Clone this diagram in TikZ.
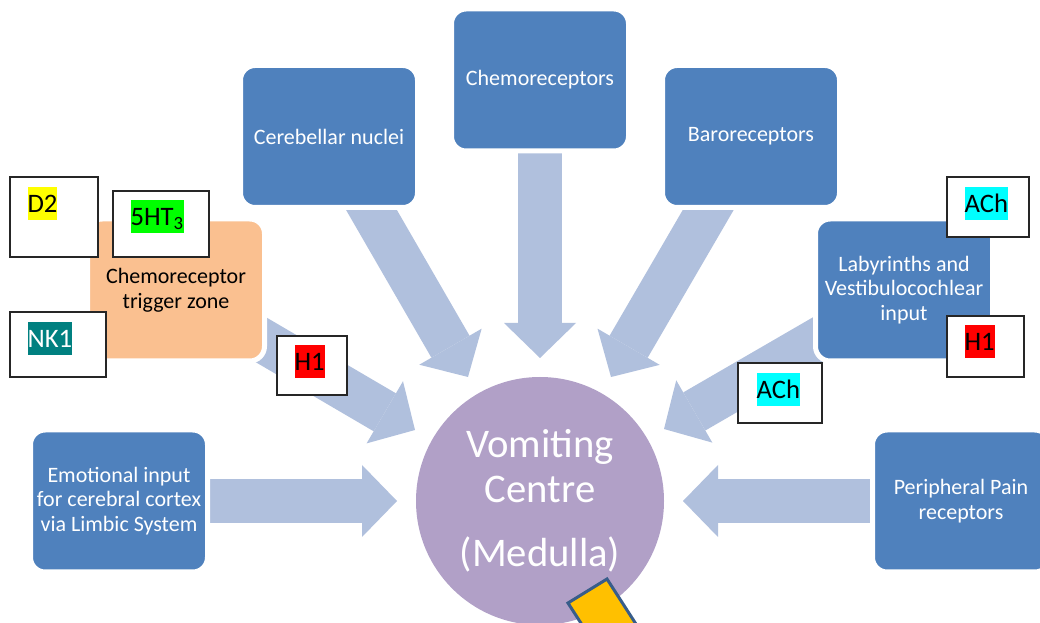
\documentclass[tikz,border=0pt]{standalone}
\usepackage{fontspec}
\setmainfont{Carlito}
\usetikzlibrary{arrows.meta,calc}
\definecolor{boxblue}{RGB}{79,129,189}
\definecolor{ctzor}{RGB}{250,192,144}
\definecolor{arrowc}{RGB}{176,192,221}
\definecolor{vcpurp}{RGB}{177,160,199}
\definecolor{pencilfill}{RGB}{255,192,0}
\definecolor{pencilline}{RGB}{56,93,138}
\definecolor{tealhl}{RGB}{0,128,128}
\definecolor{yellowhl}{RGB}{255,255,0}
\definecolor{greenhl}{RGB}{0,255,0}
\definecolor{cyanhl}{RGB}{0,255,255}
\definecolor{redhl}{RGB}{255,0,0}
\pgfdeclarelayer{paper}
\pgfdeclarelayer{arrowlayer}
\pgfsetlayers{paper,arrowlayer,main}
\begin{document}
\begin{tikzpicture}[x=0.75pt,y=-0.75pt,
  bigarrow/.style={draw=arrowc, line width=33pt,
    -{Triangle[length=26.25pt,width=54pt,line width=0pt]}},
  box/.style={rectangle, rounded corners=11pt, fill=boxblue, draw=white,
    line width=3.75pt, minimum width=132.75pt, minimum height=106.5pt,
    text=white, align=center, inner sep=0pt,
    font=\fontsize{16.5}{18.4}\selectfont},
  lbl/.style={rectangle, draw=black!85, line width=1.1pt, fill=white, inner sep=0pt},
  hl/.style={inner sep=0pt, text height=19.6pt, text depth=5.6pt,
    font=\fontsize{20}{24}\selectfont, anchor=north west, fill=#1},
  vctext/.style={text=white, font=\fontsize{30.5}{36}\selectfont, anchor=base}
]
\begin{pgfonlayer}{paper}
\fill[white] (0,0) rectangle (1040,623);
\end{pgfonlayer}
\useasboundingbox (0,0) rectangle (1040,623);

% source boxes
\node[box] (chemo) at (540,80) {Chemoreceptors};
\node[box] (cereb) at (329,136.5) {Cerebellar nuclei};
\node[box] (baro) at (751,136.5) {Baroreceptors};
\node[box, fill=ctzor, text=black] (ctz) at (176,290) {Chemoreceptor\\trigger zone};
\node[box] (lab) at (904,290) {Labyrinths and\\Vestibulocochlear\\input};
\node[box] (emo) at (119,501) {Emotional input\\for cerebral cortex\\via Limbic System};
\node[box] (peri) at (961,501) {Peripheral Pain\\receptors};

% vomiting centre
\node[circle, fill=vcpurp, minimum size=186pt, inner sep=0pt] (vc) at (540,501) {};
\node[vctext] (vc1) at ($(vc.center)+(0,-43)$) {Vomiting};
\node[vctext] (vc2) at ($(vc.center)+(0,2)$) {Centre};
\node[vctext] (vc3) at ($(vc.center)+(0,66)$) {(Medulla)};

% block arrows
\begin{pgfonlayer}{arrowlayer}
\coordinate (tcereb) at (468,377);
\coordinate (tchemo) at (540,358);
\coordinate (tbaro) at (611,377);
\coordinate (tlab) at (664,429);
\coordinate (tperi) at (683,501);
\coordinate (temo) at (397,501);
\coordinate (tctz) at (415,430);
\draw[bigarrow] (cereb.center) -- (tcereb);
\draw[bigarrow] (chemo.center) -- (tchemo);
\draw[bigarrow] (baro.center) -- (tbaro);
\draw[bigarrow] (lab.center) -- (tlab);
\draw[bigarrow] (peri.center) -- (tperi);
\draw[bigarrow] (emo.center) -- (temo);
\draw[bigarrow] (ctz.center) -- (tctz);
\end{pgfonlayer}

% receptor labels
\node[lbl, minimum width=66pt, minimum height=60pt] (d2) at (54,217) {};
\node[hl=yellowhl] at ($(d2.north west)+(18,10)$) {D2};
\node[lbl, minimum width=72pt, minimum height=49.5pt] (ht3) at (161,224) {};
\node[hl=greenhl] at ($(ht3.north west)+(18,9)$) {5HT\textsubscript{3}};
\node[lbl, minimum width=72pt, minimum height=48.75pt] (nk1) at (58,344.5) {};
\node[hl=tealhl, text=white] at ($(nk1.north west)+(18,10)$) {NK1};
\node[lbl, minimum width=52.5pt, minimum height=44.25pt] (h1l) at (312,365.5) {};
\node[hl=redhl] at ($(h1l.north west)+(18,9)$) {H1};
\node[lbl, minimum width=61.5pt, minimum height=45pt] (acht) at (988,207) {};
\node[hl=cyanhl] at ($(acht.north west)+(18,10)$) {ACh};
\node[lbl, minimum width=57.75pt, minimum height=45.75pt] (h1r) at (985.5,346.5) {};
\node[hl=redhl] at ($(h1r.north west)+(18,9)$) {H1};
\node[lbl, minimum width=63pt, minimum height=45pt] (achm) at (780,393) {};
\node[hl=cyanhl] at ($(achm.north west)+(19,10)$) {ACh};

% yellow marker
\filldraw[fill=pencilfill, draw=pencilline, line width=2.25pt, line join=miter]
  (568,603) -- (607,579) -- (661,663) -- (622,687) -- cycle;
\end{tikzpicture}
\end{document}
